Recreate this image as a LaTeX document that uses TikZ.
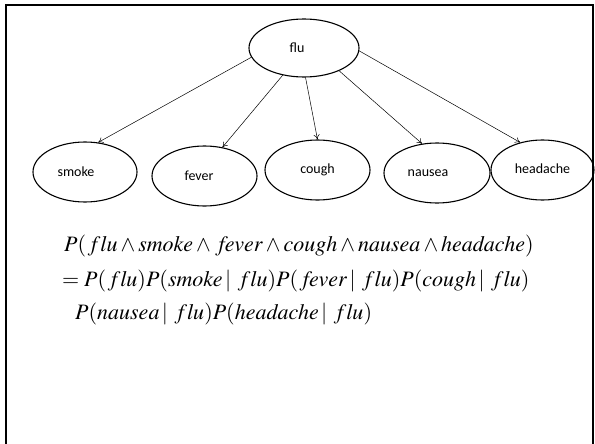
\documentclass[tikz,border=0pt]{standalone}
\usepackage{mathptmx}
\usepackage{fontspec}
\newfontfamily\labelfont{Carlito}
\usetikzlibrary{arrows.meta, shapes.geometric, positioning}
\newcommand{\fl}{\mathit{f{}lu}}
\newcommand{\gv}{\,|\;\;}
\tikzset{
	var/.style={ellipse, draw, line width=1.1pt, inner sep=0pt,
		minimum width=105pt, minimum height=60pt, font=\labelfont\fontsize{14}{16}\selectfont},
	edge/.style={draw, line width=0.5pt, -{To[length=5pt, width=6pt]}},
	formula/.style={anchor=base west, inner sep=0pt, font=\fontsize{22}{26}\selectfont}
}

\begin{document}
\begin{tikzpicture}[
    % pixel units, y going down
    x=1pt, y=-1pt
]
\useasboundingbox (0,0) rectangle (595,444);

% --- FRAME (open at the bottom) ---
\draw[line width=2pt] (6,444) -- (6,5) -- (593,5) -- (593,444);

% --- NETWORK ---
% \kern shifts the label a little off centre, as in the original
\node[var, minimum width=110pt, minimum height=58pt] (flu) at (304,48) {\kern-14pt flu};
\node[var, minimum width=104pt] (smoke) at (85,172) {\kern-18pt smoke};
\node[var] (fever) at (204.5,176) {\kern-11pt\raisebox{-3pt}{fever}};
\node[var] (cough) at (317.5,170) {\raisebox{3pt}{cough}};
\node[var, minimum width=106pt] (nausea) at (437,173) {\kern-18pt nausea};
\node[var, minimum width=103pt] (headache) at (542.5,170) {\raisebox{3pt}{headache}};

\draw[edge] (flu.190) -- (smoke.66);
\draw[edge] (flu.232) -- (fever.58);
\draw[edge] (flu.273) -- (cough.90);
\draw[edge] (flu.327) -- (nausea.117);
\draw[edge] (flu.357) -- (headache.129);

% --- JOINT PROBABILITY ---
\node[formula] (line1) at (64,251)
  {$P(\;\fl\wedge\mathit{smoke}\wedge\;\mathit{fever}\wedge\mathit{cough}\wedge\mathit{nausea}\wedge\mathit{headache})$};
\node[formula] (line2) at (62,286)
  {$=P(\;\fl)P(\mathit{smoke}\gv\fl)P(\;\mathit{fever}\gv\fl)P(\mathit{cough}\gv\fl)$};
\node[formula] (line3) at (75,319)
  {$P(\mathit{nausea}\gv\fl)P(\mathit{headache}\gv\fl)$};

\end{tikzpicture}
\end{document}
